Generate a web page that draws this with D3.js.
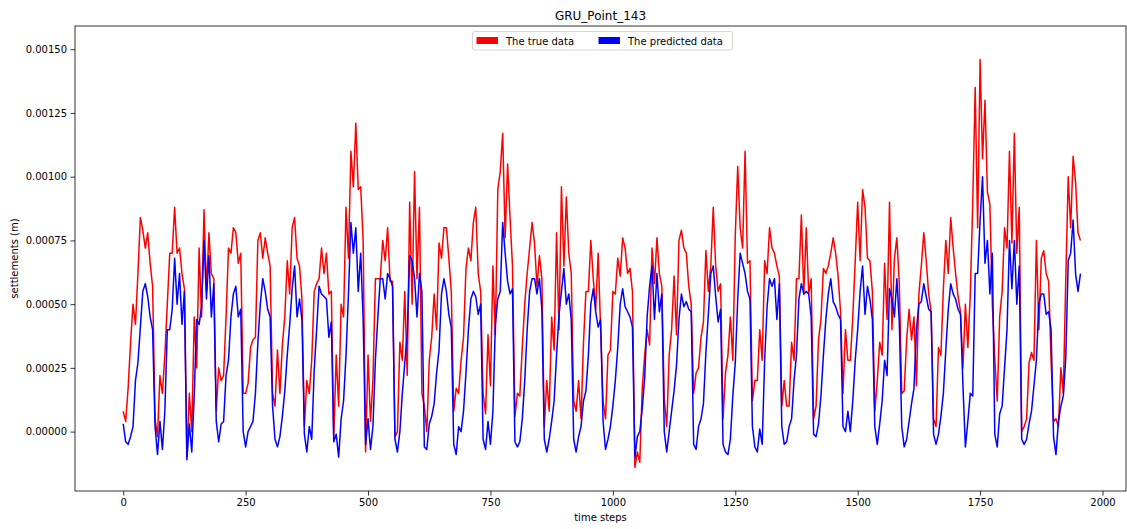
<!DOCTYPE html>
<html>
<head>
<meta charset="utf-8">
<title>GRU_Point_143</title>
<script src="https://d3js.org/d3.v7.min.js"></script>
<style>
  body { margin: 0; background: #fff; }
  text { font-family: "DejaVu Sans", sans-serif; fill: #000; }
</style>
</head>
<body>
<svg width="1127" height="529"></svg>
<script>
// settlements, one value every 5 time steps, in units of 1e-5 m
const stepSize = 5;
const unit = 1e-5;

const trueData = [
  8, 4, 17, 35, 50, 42, 62, 84, 79, 72, 78, 66, 57, 5, -2, 22, 15, 30, 50, 70, 70, 88, 70, 72, 62, 56, -10, 15, 0, 45, 25, 72, 45, 87, 55, 78, 62, 60, 8, 25, 20, 22, 45,
  72, 70, 80, 78, 66, 70, 15, 15, 19, 33, 36, 37, 75, 78, 68, 76, 70, 65, 15, 10, 32, 15, 34, 45, 67, 54, 80, 84, 68, 65, 52, 2, 20, 15, 28, 55, 58, 60, 72, 62, 70, 54, 55, -2,
  30, 10, 50, 45, 88, 68, 110, 96, 121, 95, 96, 75, -8, 30, 4, 20, 60, 60, 60, 75, 67, 80, 59, 59, -2, 0, 35, 28, 55, 22, 90, 50, 102, 60, 88, 15, 10, 0, 28, 37, 54, 40, 74, 68, 80,
  80, 68, 55, 8, 17, 15, 28, 37, 64, 72, 67, 82, 88, 62, 55, 15, 7, 38, 18, 65, 38, 95, 102, 117, 76, 105, 84, 65, 6, 15, 14, 33, 50, 62, 72, 82, 74, 57, 69, 60, 2, 20, 8, 45, 32,
  78, 40, 96, 65, 92, 70, 62, 12, 8, 20, 5, 35, 55, 55, 75, 60, 48, 70, 40, 12, 5, 30, 32, 55, 54, 68, 61, 76, 72, 62, 64, 55, -14, -8, -12, 17, 30, 40, 34, 72, 58, 76, 62, 57, 13,
  2, 30, 40, 61, 38, 75, 79, 72, 70, 57, 50, 15, 23, 25, 37, 43, 71, 55, 65, 88, 65, 55, 58, 5, 23, 30, 45, 28, 77, 104, 80, 72, 110, 66, 67, 12, 20, 20, 40, 28, 67, 62, 80, 72, 70,
  65, 61, 10, 20, 10, 10, 35, 28, 60, 60, 85, 54, 80, 54, 60, 5, 10, 36, 44, 64, 62, 65, 70, 76, 70, 61, 47, 15, 40, 28, 28, 45, 67, 90, 67, 95, 88, 68, 67, 55, 8, 20, 35, 30, 66,
  44, 90, 40, 68, 76, 58, 15, 16, 36, 48, 36, 45, 18, 54, 65, 78, 67, 54, 47, 5, 2, 33, 30, 56, 75, 62, 84, 72, 62, 53, 47, 25, 50, 33, 54, 90, 135, 80, 146, 107, 130, 94, 89, 50, 29,
  12, 45, 55, 80, 72, 110, 74, 117, 70, 88, 0, 2, 5, 27, 31, 28, 75, 40, 68, 71, 62, 59, 28, 4, 5, 2, 25, 15, 60, 100, 80, 108, 98, 78, 75
];

const predData = [
  3, -4, -5, -2, 2, 20, 27, 41, 55, 58, 53, 45, 40, 2, -9, 4, -7, 8, 40, 40, 48, 68, 50, 62, 42, 55, -11, 3, -8, 14, 44, 42, 49, 75, 52, 69, 45, 58, 4, -4, 3, 4, 22,
  28, 45, 54, 57, 45, 48, 0, -6, 0, 2, 4, 15, 35, 50, 60, 55, 48, 45, 10, -3, -6, -2, 6, 16, 30, 42, 56, 65, 45, 52, 44, -1, -8, 2, -3, 24, 40, 57, 54, 53, 52, 37, 43, -4,
  -1, -10, 5, 12, 30, 54, 82, 70, 80, 55, 70, 44, -5, 5, -7, 2, 28, 45, 60, 60, 52, 62, 60, 57, -3, -8, 0, 15, 27, 38, 69, 67, 60, 45, 62, 55, -6, -7, 3, 6, 11, 23, 32, 54, 60,
  55, 46, 41, -5, -9, 2, 0, 8, 23, 40, 52, 55, 53, 46, 50, -3, -7, 4, -5, 8, 42, 52, 55, 82, 70, 59, 54, 56, -4, -6, -4, 5, 20, 40, 55, 60, 60, 54, 60, 48, -3, -8, -3, 4, 12,
  30, 46, 55, 64, 50, 54, 44, -3, -8, -2, 2, 12, 16, 30, 50, 56, 47, 41, 44, 4, -7, -3, 2, 10, 20, 33, 50, 56, 49, 47, 45, 41, -10, -2, 0, 9, 21, 45, 57, 65, 44, 62, 47, 54, 0,
  -8, 0, 8, 16, 26, 44, 54, 49, 51, 48, 47, -5, -7, 2, 5, 11, 31, 46, 62, 65, 53, 43, 48, -5, -8, -9, -3, 14, 27, 52, 70, 66, 62, 55, 52, 2, -6, -8, 1, -5, 28, 49, 60, 57, 60,
  44, 58, 2, -5, -4, 2, 5, 20, 30, 52, 58, 54, 55, 54, 45, -1, -2, 3, 14, 30, 44, 54, 60, 51, 49, 46, 44, 2, 0, 8, 0, 12, 28, 40, 55, 65, 46, 57, 52, 44, 2, -5, 3, 12, 28,
  22, 56, 52, 45, 60, 43, 2, -6, -3, 4, 11, 17, 40, 50, 51, 58, 53, 48, 47, -1, -5, -1, 6, 15, 32, 48, 58, 54, 52, 48, 46, 18, -6, 4, 15, 14, 62, 62, 83, 100, 66, 75, 54, 70, -1,
  -6, 7, 10, 25, 40, 75, 56, 75, 50, 65, -3, -5, -3, 3, 8, 18, 28, 50, 54, 54, 46, 47, 40, -2, -9, 4, 10, 14, 29, 67, 70, 83, 62, 55, 62
];

const xTicks = [0, 250, 500, 750, 1000, 1250, 1500, 1750, 2000];
const yTicks = [0, 0.00025, 0.0005, 0.00075, 0.001, 0.00125, 0.0015];
const seriesNames = ["The true data", "The predicted data"];
const seriesColors = ["#ff0000", "#0000ff"];

const plot = { left: 75, right: 1126, top: 26, bottom: 491 };

const svg = d3.select("svg");

const x = d3.scaleLinear().domain([-98.5, 2048]).range([plot.left, plot.right]);
const y = d3.scaleLinear().domain([-0.000233, 0.001591]).range([plot.bottom, plot.top]);

svg.append("clipPath").attr("id", "clip")
  .append("rect")
  .attr("x", plot.left).attr("y", plot.top)
  .attr("width", plot.right - plot.left).attr("height", plot.bottom - plot.top);

const line = d3.line()
  .x((d, i) => x(i * stepSize))
  .y(d => y(d * unit));

// true data first, prediction drawn on top
[trueData, predData].forEach((series, k) => {
  svg.append("path")
    .datum(series)
    .attr("clip-path", "url(#clip)")
    .attr("fill", "none")
    .attr("stroke", seriesColors[k])
    .attr("stroke-width", 1.5)
    .attr("stroke-linejoin", "round")
    .attr("d", line);
});

// axes
const xAxis = svg.append("g")
  .attr("transform", `translate(0,${plot.bottom})`)
  .call(d3.axisBottom(x).tickValues(xTicks).tickFormat(d3.format("d")).tickSize(4.5).tickPadding(3.5));
const yAxis = svg.append("g")
  .attr("transform", `translate(${plot.left},0)`)
  .call(d3.axisLeft(y).tickValues(yTicks).tickFormat(d3.format(".5f")).tickSize(4.5).tickPadding(3.5));

[xAxis, yAxis].forEach(g => {
  g.select(".domain").remove();
  g.selectAll(".tick line").attr("stroke", "#000").attr("stroke-width", 0.8);
  g.selectAll(".tick text").attr("fill", "#000").style("font-size", "10px").style("font-family", "DejaVu Sans, sans-serif");
});

// frame
svg.append("rect")
  .attr("x", plot.left).attr("y", plot.top)
  .attr("width", plot.right - plot.left).attr("height", plot.bottom - plot.top)
  .attr("fill", "none").attr("stroke", "#000").attr("stroke-width", 0.8);

// titles
svg.append("text")
  .attr("x", (plot.left + plot.right) / 2).attr("y", 20)
  .attr("text-anchor", "middle").style("font-size", "12px")
  .text("GRU_Point_143");

svg.append("text")
  .attr("x", (plot.left + plot.right) / 2).attr("y", 521)
  .attr("text-anchor", "middle").style("font-size", "10px")
  .text("time steps");

svg.append("text")
  .attr("transform", `translate(18,${(plot.top + plot.bottom) / 2}) rotate(-90)`)
  .attr("text-anchor", "middle").style("font-size", "10px")
  .text("settlements (m)");

// legend
const legend = svg.append("g").attr("transform", "translate(472.5,31.5)");
legend.append("rect")
  .attr("width", 260).attr("height", 18.5).attr("rx", 2)
  .attr("fill", "#fff").attr("fill-opacity", 0.8)
  .attr("stroke", "#cccccc").attr("stroke-width", 0.8);

const itemX = [4, 126];
seriesNames.forEach((name, k) => {
  const item = legend.append("g").attr("transform", `translate(${itemX[k]},0)`);
  item.append("rect")
    .attr("x", 0).attr("y", 5.5).attr("width", 21.5).attr("height", 7)
    .attr("fill", seriesColors[k]);
  item.append("text")
    .attr("x", 29.5).attr("y", 13)
    .style("font-size", "10px")
    .text(name);
});
</script>
</body>
</html>
